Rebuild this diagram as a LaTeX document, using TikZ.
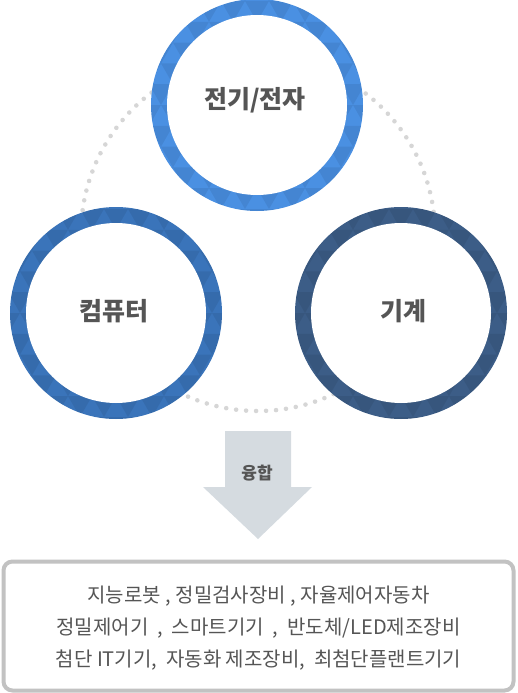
\documentclass[tikz,border=0pt]{standalone}
\usepackage{fontspec}
\setmainfont{Noto Sans CJK KR}
\usetikzlibrary{positioning}
\definecolor{elecblue}{HTML}{4A90E2}
\definecolor{compblue}{HTML}{3A74BA}
\definecolor{mechblue}{HTML}{3C5D87}
\definecolor{labelgray}{HTML}{555555}
\definecolor{dotgray}{HTML}{D6D6D6}
\definecolor{arrowgray}{HTML}{D5DBE0}
\definecolor{boxgray}{HTML}{C2C2C2}

% faceted ring: centre x, centre y, colour
\newcommand{\facetring}[3]{%
  \fill[#3] (#1,#2) circle (106);
  \begin{scope}
    \clip (#1,#2) circle (106);
    \foreach \row in {-6,...,5} {
      \foreach \col in {-6,...,5} {
        \pgfmathsetmacro{\sx}{#1+\col*24+mod(\row+12,2)*12}
        \pgfmathsetmacro{\sy}{#2+\row*20.8}
        \fill[black, fill opacity=0.07] (\sx,\sy) -- ++(24,0) -- ++(-12,20.8) -- cycle;
      }
    }
  \end{scope}
  \fill[white] (#1,#2) circle (90);
}

\begin{document}
\begin{tikzpicture}[
    x=1pt, y=-1pt,
    ringlabel/.style={font=\bfseries\fontsize{25}{25}\selectfont, text=labelgray, inner sep=0pt},
    fuselabel/.style={font=\bfseries\fontsize{17}{17}\selectfont, text=labelgray, inner sep=0pt},
    apptext/.style={font=\fontsize{20}{32}\selectfont, text=labelgray, align=center, inner sep=0pt}
]
    \useasboundingbox (0,0) rectangle (517,693);

    % dotted link behind the rings
    \draw[dotgray, line width=4.6pt, line cap=round, dash pattern=on 0pt off 10pt] (258,234) circle (177);

    % three fields
    \facetring{257}{105}{elecblue}
    \facetring{116}{313}{compblue}
    \facetring{401}{313}{mechblue}
    \node[ringlabel] (elec) at (255,100) {전기/전자};
    \node[ringlabel] (comp) at (114,311) {컴퓨터};
    \node[ringlabel] (mech) at (403,311) {기계};

    % fusion arrow
    \fill[arrowgray] (225,431) -- (291,431) -- (291,487) -- (312,487) -- (258,539)
        -- (203,487) -- (225,487) -- cycle;
    \node[fuselabel] (fuse) at (257,473) {융합};

    % application box
    \draw[boxgray, line width=4pt, rounded corners=9pt] (3.5,561.5) rectangle (513.5,690.5);
    \node[apptext] (apps) at (258.5,628) {지능로봇 , 정밀검사장비 , 자율제어자동차\\
        정밀제어기 \ ,\ \ 스마트기기 \ ,\ \ 반도체/LED제조장비\\
        첨단 IT기기,\ \ 자동화 제조장비,\ \ 최첨단플랜트기기};
\end{tikzpicture}
\end{document}
